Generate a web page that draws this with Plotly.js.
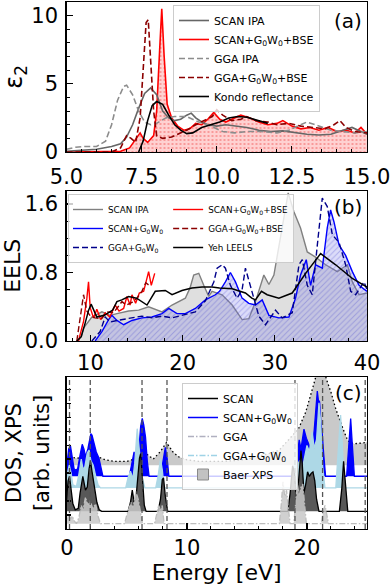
<!DOCTYPE html>
<html>
<head>
<meta charset="utf-8">
<script src="https://cdn.plot.ly/plotly-3.0.1.min.js"></script>
<style>body{margin:0;background:#fff;} #graph{width:392px;height:585px;}</style>
</head>
<body>
<div id="graph"></div>
<script>
var FONT = 'DejaVu Sans, sans-serif';

// ---------- panel (a): epsilon_2 ----------
var aScanIpaE = [5.0, 5.5, 6.0, 6.5, 6.8, 7.0, 7.2, 7.4, 7.6, 7.8, 8.0, 8.2, 8.4, 8.6, 8.8, 9.0, 9.15, 9.3, 9.5, 9.7, 10.0, 10.3, 10.6, 11.0, 11.4, 11.8, 12.2, 12.6, 13.0, 13.4, 13.8, 14.2, 14.5, 14.8, 15.0];
var aScanIpa  = [0.05, 0.1, 0.2, 0.4, 0.6, 1.1, 2.0, 3.2, 4.3, 4.7, 4.2, 3.0, 2.5, 2.3, 2.4, 2.7, 2.85, 2.5, 2.2, 2.0, 1.9, 2.0, 1.9, 1.8, 1.6, 1.5, 1.55, 1.4, 1.3, 1.25, 1.3, 1.6, 1.8, 1.5, 1.3];
var aGgaIpaE = [5.0, 5.3, 5.6, 6.0, 6.3, 6.5, 6.7, 6.9, 7.0, 7.2, 7.4, 7.6, 7.8, 8.0, 8.3, 8.6, 9.0, 9.4, 9.8, 10.2, 10.6, 11.0, 11.5, 12.0, 12.4, 12.8, 13.0, 13.4, 13.8, 14.2, 14.6, 15.0];
var aGgaIpa  = [0.2, 0.35, 0.4, 0.4, 0.8, 2.0, 3.8, 4.8, 4.9, 4.2, 3.0, 2.2, 2.0, 2.1, 2.5, 2.6, 2.6, 2.2, 1.9, 1.5, 1.4, 1.5, 1.5, 1.4, 1.6, 2.0, 2.2, 1.9, 1.6, 1.5, 1.4, 1.5];
var aScanBseE = [5.0, 6.0, 6.8, 7.1, 7.3, 7.45, 7.55, 7.7, 7.9, 8.0, 8.1, 8.17, 8.25, 8.35, 8.5, 8.7, 8.9, 9.1, 9.3, 9.5, 9.7, 9.9, 10.1, 10.3, 10.5, 10.8, 11.1, 11.4, 11.7, 12.0, 12.2, 12.5, 12.8, 13.1, 13.4, 13.7, 14.0, 14.3, 14.6, 14.8, 15.0];
var aScanBse  = [0.0, 0.0, 0.05, 0.3, 0.9, 1.4, 1.0, 0.7, 1.2, 3.0, 7.5, 10.5, 7.0, 3.5, 2.5, 1.9, 1.6, 1.7, 2.1, 2.0, 2.4, 2.9, 2.4, 2.2, 2.4, 2.7, 2.5, 2.2, 2.0, 2.1, 2.3, 1.9, 1.7, 1.8, 1.6, 1.8, 1.5, 1.6, 1.4, 1.8, 1.3];
var aGgaBseE = [5.0, 6.5, 6.8, 7.0, 7.15, 7.3, 7.45, 7.55, 7.65, 7.72, 7.8, 7.9, 8.0, 8.2, 8.5, 8.8, 9.0, 9.3, 9.6, 9.85, 10.0, 10.2, 10.5, 10.8, 11.0, 11.3, 11.7, 12.0, 12.4, 12.8, 13.2, 13.6, 13.9, 14.1, 14.3, 14.6, 15.0];
var aGgaBse  = [0.0, 0.0, 0.3, 1.2, 1.0, 0.7, 2.5, 6.5, 9.5, 9.7, 7.0, 3.0, 1.2, 1.0, 1.1, 1.4, 1.6, 2.0, 2.3, 2.6, 3.1, 2.7, 2.3, 2.4, 2.6, 2.3, 2.2, 2.0, 2.1, 1.9, 1.8, 1.7, 2.0, 2.3, 1.8, 1.5, 1.4];
var aKondoE = [7.4, 7.55, 7.7, 7.85, 8.0, 8.2, 8.4, 8.6, 8.8, 9.0, 9.2, 9.5, 9.8, 10.1, 10.4, 10.7, 11.0, 11.3, 11.7];
var aKondo  = [0.0, 0.8, 2.3, 3.4, 3.7, 3.5, 2.7, 2.0, 1.6, 1.35, 1.4, 1.8, 2.0, 2.2, 2.5, 2.6, 2.55, 2.35, 2.1];

// ---------- panel (b): EELS ----------
var bScanIpaE = [8.6, 9.0, 9.25, 10.15, 11.24, 12.14, 12.87, 14.14, 15.23, 16.31, 17.76, 18.85, 20.29, 20.8, 21.2, 21.75, 22.29, 22.83, 23.19, 24.28, 25.37, 26.45, 27.18, 27.9, 28.81, 29.36, 29.9, 30.44, 30.99, 31.45, 32.07, 32.79, 33.52, 34.42, 35.51, 36.78, 37.87, 38.41, 39.14, 40.0];
var bScanIpa  = [0, 0.05, 0.15, 0.28, 0.34, 0.30, 0.32, 0.35, 0.36, 0.40, 0.34, 0.42, 0.50, 0.62, 0.77, 0.79, 0.65, 0.52, 0.58, 0.54, 0.42, 0.25, 0.26, 0.46, 0.77, 0.66, 0.77, 1.12, 1.47, 1.73, 1.51, 1.32, 1.04, 0.98, 0.89, 0.81, 0.89, 0.69, 0.54, 0.56];
var bScanGwE = [10.51, 11.24, 11.97, 12.32, 12.87, 13.6, 14.5, 15.58, 16.67, 17.76, 18.49, 19.39, 20.29, 21.38, 22.47, 23.55, 24.0, 24.64, 25.18, 25.73, 26.45, 27.18, 27.9, 28.63, 29.36, 30.44, 31.53, 32.25, 32.79, 33.41, 33.88, 34.42, 35.15, 35.69, 36.05, 36.42, 36.97, 37.68, 38.41, 39.14, 40.0];
var bScanGw  = [0.0, 0.11, 0.25, 0.30, 0.24, 0.19, 0.24, 0.27, 0.28, 0.32, 0.38, 0.32, 0.32, 0.38, 0.48, 0.54, 0.58, 0.69, 0.80, 0.69, 0.50, 0.44, 0.42, 0.48, 0.30, 0.27, 0.28, 0.50, 0.77, 0.95, 0.65, 0.89, 0.85, 1.32, 1.53, 1.39, 1.12, 1.0, 0.81, 0.65, 0.58];
var bGgaGwE = [10.15, 11.05, 11.6, 12.14, 12.87, 14.14, 15.58, 16.67, 17.76, 18.85, 19.93, 21.38, 22.47, 23.38, 23.74, 24.28, 24.64, 25.18, 25.91, 26.45, 26.81, 27.2, 27.9, 28.27, 28.99, 30.07, 30.8, 31.89, 32.62, 32.98, 33.52, 34.06, 34.61, 35.15, 35.69, 36.24, 36.97, 37.68, 38.23, 38.77, 39.68, 40.0];
var bGgaGw  = [0.0, 0.11, 0.28, 0.22, 0.24, 0.26, 0.29, 0.27, 0.29, 0.27, 0.30, 0.34, 0.47, 0.69, 0.85, 0.89, 0.85, 0.65, 0.50, 0.60, 0.85, 0.70, 0.45, 0.29, 0.19, 0.36, 0.27, 0.33, 0.89, 0.95, 0.65, 0.54, 1.12, 1.67, 1.57, 1.24, 1.15, 0.89, 0.58, 0.54, 0.69, 0.6];
var bScanBseE = [8.7, 9.25, 9.61, 9.79, 9.97, 10.33, 10.69, 11.1, 11.6, 12.1, 12.68, 13.1, 13.6, 13.95, 14.3, 14.5, 14.9, 15.3, 15.77, 16.0, 16.31, 16.6, 16.97];
var bScanBse  = [0.0, 0.23, 0.5, 0.69, 0.39, 0.27, 0.37, 0.25, 0.33, 0.28, 0.42, 0.35, 0.38, 0.52, 0.42, 0.54, 0.44, 0.56, 0.58, 0.68, 0.81, 0.65, 0.79];
var bGgaBseE = [8.52, 8.88, 9.25, 9.6, 10.0, 10.5, 11.2, 11.8, 12.5, 13.0, 13.41, 13.9, 14.5, 15.04, 15.58, 16.0, 16.49];
var bGgaBse  = [0.0, 0.27, 0.54, 0.35, 0.29, 0.27, 0.26, 0.34, 0.33, 0.40, 0.46, 0.42, 0.45, 0.5, 0.58, 0.68, 0.64];
var bYehE = [8.52, 9.0, 9.4, 9.8, 10.07, 10.69, 11.5, 12.4, 12.87, 13.4, 14.14, 15.0, 16.13, 16.6, 17.03, 18.12, 18.85, 19.93, 21.0, 22.11, 23.19, 24.0, 25.37, 26.81, 27.5, 27.9, 28.55, 29.17, 30.44, 31.89, 33.34, 34.97, 36.6, 38.41, 40.0];
var bYeh  = [0.0, 0.05, 0.2, 0.36, 0.43, 0.28, 0.30, 0.36, 0.46, 0.48, 0.52, 0.50, 0.42, 0.50, 0.58, 0.59, 0.54, 0.59, 0.62, 0.63, 0.63, 0.62, 0.61, 0.56, 0.5, 0.48, 0.58, 0.54, 0.50, 0.56, 0.79, 1.02, 0.89, 0.73, 0.63];

// ---------- panel (c): DOS / XPS (heights above each baseline) ----------
var offGga = 0.35, offScan = 1.16, offGgaGw = 2.7, offScanGw = 3.47, offXps = 4.2;
var cScanE = [-0.1, 0.0, 0.1, 0.22, 0.35, 0.5, 0.7, 0.95, 1.1, 1.33, 1.55, 1.7, 1.85, 1.97, 2.1, 2.3, 2.5, 2.7, 2.9, 5.1, 5.3, 5.45, 5.6, 5.75, 5.9, 6.05, 6.15, 6.3, 6.45, 6.6, 7.6, 7.8, 7.95, 8.05, 8.2, 8.4, 18.4, 18.6, 18.8, 18.95, 19.1, 19.3, 19.5, 19.6, 19.75, 19.9, 20.05, 20.2, 20.35, 20.5, 20.65, 20.8, 21.0, 22.7, 22.9, 23.05, 23.2, 23.4, 25.0];
var cScan  = [0, 1.2, 2.0, 2.3, 1.5, 0.5, 0.1, 0.2, 1.2, 2.3, 1.4, 1.6, 2.8, 3.3, 2.6, 1.6, 0.6, 0.1, 0, 0, 0.6, 1.4, 0.6, 0.8, 2.5, 3.5, 3.8, 2.0, 0.4, 0, 0, 0.8, 2.1, 2.2, 1.0, 0, 0, 1.2, 3.0, 2.6, 1.0, 2.0, 4.0, 3.2, 1.2, 1.8, 2.6, 2.3, 2.5, 2.6, 2.0, 0.8, 0, 0, 1.5, 3.3, 2.0, 0, 0];
var cScanGwE = [-0.1, 0.05, 0.15, 0.3, 0.45, 0.6, 0.72, 0.9, 1.1, 1.28, 1.42, 1.56, 1.75, 1.9, 2.0, 2.1, 2.25, 2.45, 2.67, 2.85, 3.0, 5.2, 5.4, 5.6, 5.8, 6.0, 6.15, 6.28, 6.4, 6.55, 6.7, 6.85, 7.8, 8.0, 8.2, 8.35, 8.5, 19.0, 19.2, 19.35, 19.5, 19.75, 19.95, 20.16, 20.3, 20.44, 20.6, 20.75, 20.86, 20.95, 21.05, 21.15, 21.27, 21.4, 21.55, 23.3, 23.5, 23.64, 23.8, 23.95, 25.0];
var cScanGw  = [0, 1.2, 1.8, 2.0, 1.2, 0.5, 0.4, 0.5, 1.4, 2.1, 1.8, 1.3, 1.8, 2.6, 2.8, 2.7, 2.3, 1.6, 1.2, 0.4, 0, 0, 0.8, 1.6, 1.0, 1.8, 3.3, 3.8, 3.4, 2.6, 1.0, 0, 0, 1.0, 1.9, 1.2, 0, 0, 1.5, 2.4, 1.8, 3.1, 2.5, 2.1, 1.6, 1.9, 3.0, 4.6, 5.6, 5.0, 4.9, 3.6, 2.8, 1.4, 0, 0, 2.0, 3.8, 1.8, 0, 0];
var cGgaGwE = [-0.1, 0.05, 0.2, 0.35, 0.5, 0.8, 1.0, 1.2, 1.35, 1.5, 1.7, 1.85, 2.0, 2.2, 2.4, 2.6, 2.8, 4.9, 5.1, 5.3, 5.5, 5.65, 5.86, 6.0, 6.15, 6.3, 6.5, 7.4, 7.6, 7.8, 7.95, 8.1, 18.7, 18.9, 19.05, 19.2, 19.4, 19.6, 19.8, 20.0, 20.2, 20.44, 20.6, 20.8, 21.0, 21.15, 21.3, 21.5, 22.4, 22.6, 22.8, 22.95, 23.1, 25.0];
var cGgaGw  = [0, 1.0, 1.5, 1.0, 0.2, 0.1, 0.9, 1.9, 1.2, 1.4, 2.3, 2.5, 1.8, 1.5, 0.8, 0.2, 0, 0, 0.7, 1.1, 0.6, 1.6, 3.9, 2.5, 1.6, 0.6, 0, 0, 0.8, 1.9, 1.2, 0, 0, 1.2, 2.6, 1.5, 1.8, 1.2, 2.0, 2.8, 2.4, 3.7, 2.6, 3.2, 5.6, 4.2, 1.5, 0, 0, 2.5, 4.8, 2.8, 0, 0];
var cGgaE = [-0.1, 0.05, 0.15, 0.3, 0.45, 0.6, 0.8, 1.0, 1.2, 1.35, 1.55, 1.75, 1.95, 2.15, 2.4, 2.6, 2.8, 4.8, 5.0, 5.2, 5.35, 5.5, 5.75, 5.95, 6.1, 6.3, 7.3, 7.5, 7.65, 7.8, 7.95, 8.1, 17.7, 17.85, 18.0, 18.15, 18.3, 18.45, 18.6, 18.9, 19.05, 19.2, 19.35, 19.5, 19.65, 19.8, 19.95, 21.2, 21.35, 21.5, 21.65, 21.8, 25.0];
var cGga  = [0, 0.5, 0.6, 0.3, 0.5, 0.2, 0, 0.4, 1.2, 0.9, 1.75, 1.2, 1.5, 1.0, 1.3, 0.5, 0, 0, 0.6, 1.0, 1.4, 1.0, 2.1, 1.6, 0.8, 0, 0, 0.6, 1.2, 0.9, 1.2, 0, 0, 1.2, 2.75, 1.8, 2.2, 1.0, 0, 0, 1.5, 2.6, 1.8, 2.4, 2.6, 1.2, 0, 0, 0.8, 1.2, 0.7, 0, 0];
var cXpsE = [-0.1, 0.3, 0.8, 1.3, 2.0, 2.6, 3.2, 4.0, 5.0, 5.6, 6.2, 6.7, 7.2, 7.8, 8.3, 8.8, 9.3, 10.0, 11.0, 12.0, 13.0, 14.0, 15.0, 16.0, 17.0, 17.7, 18.5, 19.3, 19.9, 20.4, 20.7, 21.1, 21.6, 22.0, 22.4, 23.0, 23.4, 23.9, 24.4, 25.0];
var cXps  = [4.7, 4.75, 4.65, 4.7, 4.95, 4.75, 4.55, 4.45, 4.45, 4.6, 5.1, 4.9, 4.6, 5.1, 5.7, 5.1, 4.75, 4.55, 4.45, 4.45, 4.45, 4.5, 4.6, 4.8, 5.0, 5.2, 5.9, 6.6, 7.7, 9.0, 9.9, 12.0, 9.9, 9.0, 7.9, 6.6, 5.8, 5.6, 5.65, 5.7];
var vLines = [0.22, 1.95, 6.26, 8.34, 19.0, 21.3, 24.85];

var XDOM = [66.5 / 392, 367 / 392];

function lift(arr, off) {
  return arr.map(function (v) { return v + off; });
}
function legendItem(name, legend, style) {
  var t = {x: [null], y: [null], mode: 'lines', name: name, legend: legend, hoverinfo: 'skip'};
  for (var k in style) t[k] = style[k];
  return t;
}
function baseline(off) {
  return {x: [-0.2, 25.2], y: [off, off], xaxis: 'x3', yaxis: 'y3', mode: 'lines',
          line: {width: 0}, showlegend: false, hoverinfo: 'skip'};
}

var data = [
  // (a)
  {x: aScanBseE, y: aScanBse, mode: 'lines', line: {color: 'red', width: 1.6}, fill: 'tozeroy',
   fillcolor: 'rgba(255,0,0,0.18)',
   fillpattern: {shape: '.', bgcolor: 'rgba(255,0,0,0.18)', fgcolor: 'rgba(230,0,0,0.35)', size: 4, solidity: 0.2},
   showlegend: false},
  {x: aScanIpaE, y: aScanIpa, mode: 'lines', line: {color: '#666666', width: 1.6}, showlegend: false},
  {x: aGgaIpaE, y: aGgaIpa, mode: 'lines', line: {color: '#8c8c8c', width: 1.6, dash: '6px,3px'}, showlegend: false},
  {x: aGgaBseE, y: aGgaBse, mode: 'lines', line: {color: '#8b0000', width: 1.6, dash: '6px,3px'}, showlegend: false},
  {x: aKondoE, y: aKondo, mode: 'lines', line: {color: 'black', width: 1.6}, showlegend: false},

  // (b)
  {x: bScanIpaE, y: bScanIpa, xaxis: 'x2', yaxis: 'y2', mode: 'lines', line: {color: '#808080', width: 1.4},
   fill: 'tozeroy', fillcolor: 'rgba(150,150,150,0.3)', showlegend: false},
  {x: bScanGwE, y: bScanGw, xaxis: 'x2', yaxis: 'y2', mode: 'lines', line: {color: 'blue', width: 1.4},
   fill: 'tozeroy', fillcolor: 'rgba(110,110,225,0.25)',
   fillpattern: {shape: '/', bgcolor: 'rgba(120,120,230,0.26)', fgcolor: 'rgba(60,60,200,0.3)', size: 4, solidity: 0.25},
   showlegend: false},
  {x: bGgaGwE, y: bGgaGw, xaxis: 'x2', yaxis: 'y2', mode: 'lines', line: {color: '#00008b', width: 1.4, dash: '6px,3px'}, showlegend: false},
  {x: bScanBseE, y: bScanBse, xaxis: 'x2', yaxis: 'y2', mode: 'lines', line: {color: 'red', width: 1.4}, showlegend: false},
  {x: bGgaBseE, y: bGgaBse, xaxis: 'x2', yaxis: 'y2', mode: 'lines', line: {color: '#8b0000', width: 1.4, dash: '6px,3px'}, showlegend: false},
  {x: bYehE, y: bYeh, xaxis: 'x2', yaxis: 'y2', mode: 'lines', line: {color: 'black', width: 1.5}, showlegend: false},

  // (c) each curve fills down to its own baseline
  baseline(offXps),
  {x: cXpsE, y: cXps, xaxis: 'x3', yaxis: 'y3', mode: 'lines', line: {color: 'black', width: 1.3, dash: '1.5px,2.5px'},
   fill: 'tonexty', fillcolor: '#c9c9c9', showlegend: false},
  baseline(offScanGw),
  {x: cScanGwE, y: lift(cScanGw, offScanGw), xaxis: 'x3', yaxis: 'y3', mode: 'lines', line: {color: 'blue', width: 1.3},
   fill: 'tonexty', fillcolor: 'blue', showlegend: false},
  baseline(offGgaGw),
  {x: cGgaGwE, y: lift(cGgaGw, offGgaGw), xaxis: 'x3', yaxis: 'y3', mode: 'lines', line: {color: '#add8e6', width: 1.3},
   fill: 'tonexty', fillcolor: '#add8e6', showlegend: false},
  baseline(offScan),
  {x: cScanE, y: lift(cScan, offScan), xaxis: 'x3', yaxis: 'y3', mode: 'lines', line: {color: 'black', width: 1.3},
   fill: 'tonexty', fillcolor: '#585858', showlegend: false},
  baseline(offGga),
  {x: cGgaE, y: lift(cGga, offGga), xaxis: 'x3', yaxis: 'y3', mode: 'lines', line: {color: '#bdbdbd', width: 1.3, dash: '6px,2px,1.5px,2px'},
   fill: 'tonexty', fillcolor: 'rgba(200,200,200,0.85)', showlegend: false},

  // legend entries
  legendItem('SCAN IPA', 'legend', {line: {color: '#666666', width: 1.6}}),
  legendItem('SCAN+G<sub>0</sub>W<sub>0</sub>+BSE', 'legend', {line: {color: 'red', width: 1.6}}),
  legendItem('GGA IPA', 'legend', {line: {color: '#8c8c8c', width: 1.6, dash: '6px,3px'}}),
  legendItem('GGA+G<sub>0</sub>W<sub>0</sub>+BSE', 'legend', {line: {color: '#8b0000', width: 1.6, dash: '6px,3px'}}),
  legendItem('Kondo reflectance', 'legend', {line: {color: 'black', width: 1.6}}),

  legendItem('SCAN IPA', 'legend2', {xaxis: 'x2', yaxis: 'y2', legendgroup: 'c1', line: {color: '#808080', width: 1.4}}),
  legendItem('SCAN+G<sub>0</sub>W<sub>0</sub>', 'legend2', {xaxis: 'x2', yaxis: 'y2', legendgroup: 'c1', line: {color: 'blue', width: 1.4}}),
  legendItem('GGA+G<sub>0</sub>W<sub>0</sub>', 'legend2', {xaxis: 'x2', yaxis: 'y2', legendgroup: 'c1', line: {color: '#00008b', width: 1.4, dash: '6px,3px'}}),
  legendItem('SCAN+G<sub>0</sub>W<sub>0</sub>+BSE', 'legend2', {xaxis: 'x2', yaxis: 'y2', legendgroup: 'c2', line: {color: 'red', width: 1.4}}),
  legendItem('GGA+G<sub>0</sub>W<sub>0</sub>+BSE', 'legend2', {xaxis: 'x2', yaxis: 'y2', legendgroup: 'c2', line: {color: '#8b0000', width: 1.4, dash: '6px,3px'}}),
  legendItem('Yeh LEELS', 'legend2', {xaxis: 'x2', yaxis: 'y2', legendgroup: 'c2', line: {color: 'black', width: 1.5}}),

  legendItem('SCAN', 'legend3', {xaxis: 'x3', yaxis: 'y3', line: {color: 'black', width: 1.5}}),
  legendItem('SCAN+G<sub>0</sub>W<sub>0</sub>', 'legend3', {xaxis: 'x3', yaxis: 'y3', line: {color: 'blue', width: 1.5}}),
  legendItem('GGA', 'legend3', {xaxis: 'x3', yaxis: 'y3', line: {color: '#b0b0c0', width: 1.5, dash: '6px,2px,1.5px,2px'}}),
  legendItem('GGA+G<sub>0</sub>W<sub>0</sub>', 'legend3', {xaxis: 'x3', yaxis: 'y3', line: {color: '#9fd3e6', width: 1.5, dash: '6px,2px,1.5px,2px'}}),
  legendItem('Baer XPS', 'legend3', {xaxis: 'x3', yaxis: 'y3', mode: 'markers',
    marker: {symbol: 'square', size: 11, color: '#c2c2c2', line: {color: '#8a8a8a', width: 1}}})
];

var shapes = vLines.map(function (e) {
  return {type: 'line', xref: 'x3', yref: 'y3 domain', x0: e, x1: e, y0: 0, y1: 1, layer: 'above',
          line: {color: '#555555', width: 1.3, dash: '5px,3px'}};
});

function axisBase() {
  return {showline: true, mirror: true, linecolor: 'black', linewidth: 1.2, showgrid: false, zeroline: false,
          ticks: 'inside', ticklen: 6, tickwidth: 1.2, tickcolor: 'black', automargin: false,
          tickfont: {family: FONT, size: 21, color: 'black'}, ticklabelstandoff: 3};
}
function withProps(base, extra) {
  for (var k in extra) base[k] = extra[k];
  return base;
}
var minorX = function (d) { return {dtick: d, ticks: 'inside', ticklen: 3.5, tickwidth: 1, tickcolor: 'black'}; };

var legendBox = {bgcolor: 'rgba(255,255,255,0.8)', bordercolor: '#cccccc', borderwidth: 1,
                 xanchor: 'left', yanchor: 'top', tracegroupgap: 0};

var layout = {
  width: 392, height: 585,
  margin: {l: 0, r: 0, t: 0, b: 0},
  paper_bgcolor: 'white', plot_bgcolor: 'white',
  font: {family: FONT, color: 'black'},
  xaxis: withProps(axisBase(), {domain: XDOM, anchor: 'y', range: [5, 15], tick0: 5, dtick: 2.5, tickformat: '.1f',
    minor: minorX(0.5), ticklabelstandoff: 6}),
  yaxis: withProps(axisBase(), {domain: [1 - 152 / 585, 1 - 2 / 585], anchor: 'x', range: [0, 11], tick0: 0, dtick: 5,
    minor: minorX(1), title: {text: 'ε<sub>2</sub>', font: {size: 24}, standoff: 4}}),
  xaxis2: withProps(axisBase(), {domain: XDOM, anchor: 'y2', range: [7.4, 40], tick0: 10, dtick: 10,
    minor: minorX(2)}),
  yaxis2: withProps(axisBase(), {domain: [1 - 341 / 585, 1 - 190.7 / 585], anchor: 'x2', range: [0, 1.755], tick0: 0, dtick: 0.8,
    tickformat: '.1f', minor: minorX(0.2), title: {text: 'EELS', font: {size: 22}, standoff: 6}}),
  xaxis3: withProps(axisBase(), {domain: XDOM, anchor: 'y3', range: [-0.03, 25], tick0: 0, dtick: 10,
    minor: minorX(2), ticklabelstandoff: 0, title: {text: 'Energy [eV]', font: {size: 22}, standoff: 9}}),
  yaxis3: withProps(axisBase(), {domain: [1 - 529 / 585, 1 - 377 / 585], anchor: 'x3', range: [0, 10], tick0: 0, dtick: 0.92,
    ticklen: 4, showticklabels: false,
    title: {text: 'DOS, XPS<br>[arb. units]', font: {size: 21}, standoff: 10}}),
  legend: withProps({x: 173 / 392, y: 1 - 5 / 585, traceorder: 'normal', font: {family: FONT, size: 11}}, legendBox),
  legend2: withProps({x: 68 / 392, y: 1 - 194 / 585, orientation: 'h', traceorder: 'grouped',
    font: {family: FONT, size: 8.8}}, legendBox),
  legend3: withProps({x: 182 / 392, y: 1 - 383 / 585, traceorder: 'normal', font: {family: FONT, size: 11}}, legendBox),
  shapes: shapes,
  annotations: [
    {xref: 'paper', yref: 'paper', x: 364 / 392, y: 1 - 7 / 585, xanchor: 'right', yanchor: 'top', text: '(a)', showarrow: false, font: {size: 20}},
    {xref: 'paper', yref: 'paper', x: 364 / 392, y: 1 - 193 / 585, xanchor: 'right', yanchor: 'top', text: '(b)', showarrow: false, font: {size: 20}},
    {xref: 'paper', yref: 'paper', x: 364 / 392, y: 1 - 379 / 585, xanchor: 'right', yanchor: 'top', text: '(c)', showarrow: false, font: {size: 20}}
  ]
};

Plotly.newPlot('graph', data, layout, {displayModeBar: false, staticPlot: true});
</script>
</body>
</html>
